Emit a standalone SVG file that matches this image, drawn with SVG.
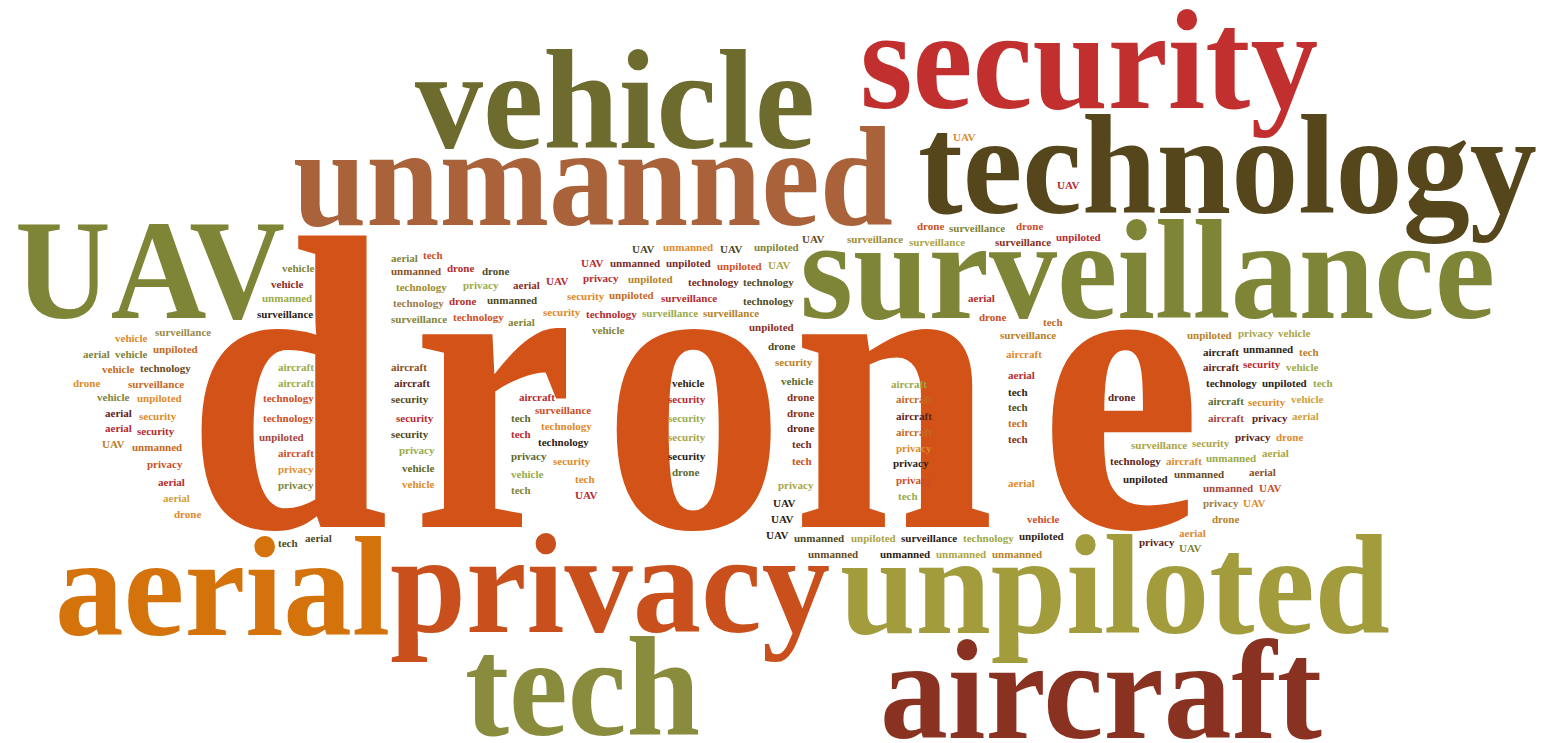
<svg xmlns="http://www.w3.org/2000/svg" width="1543" height="743" viewBox="0 0 1543 743">
<style>
text{font-family:"Liberation Serif","Times New Roman",serif;font-weight:bold}
.b{font-size:142px}
.s{font-size:11px}
.c1{fill:#9aaa48}.c2{fill:#7f8438}.c3{fill:#4d4a22}.c4{fill:#2c2216}.c5{fill:#b52b30}.c6{fill:#8c2d22}
.c7{fill:#dd8a2c}.c8{fill:#cc4f26}.c9{fill:#9a8a4a}.c10{fill:#c4691e}.c11{fill:#5c2419}.c12{fill:#aca445}
.db{fill:#6a4a1e}.br{fill:#8a4f1e}.ob{fill:#b98026}.ta{fill:#cfa13a}.rb{fill:#a8443a}.ot{fill:#a08b30}
.tn{fill:#9c7b4b}.dr{fill:#77292a}.og{fill:#5b6a2a}
</style>
<rect width="1543" height="743" fill="#ffffff"/>
<g id="big">
<text class="b" x="415" y="148" textLength="400" lengthAdjust="spacingAndGlyphs" fill="#6e6b2f">vehicle</text>
<text class="b" x="860" y="108" textLength="458" lengthAdjust="spacingAndGlyphs" fill="#c1302f">security</text>
<text class="b" x="293" y="225" textLength="600" lengthAdjust="spacingAndGlyphs" fill="#a9623a">unmanned</text>
<text class="b" x="918" y="213" textLength="619" lengthAdjust="spacingAndGlyphs" fill="#56461b">technology</text>
<text class="b" x="15" y="318" textLength="270" lengthAdjust="spacingAndGlyphs" fill="#7f8537">UAV</text>
<text class="b" x="800" y="318" textLength="695" lengthAdjust="spacingAndGlyphs" fill="#7f8537">surveillance</text>
<text transform="translate(0,527) scale(0.865,1)" x="216 477 697 916 1202" y="0" font-size="420" fill="#d35217">drone</text>
<text class="b" x="55" y="635" textLength="335" lengthAdjust="spacingAndGlyphs" fill="#d4730c">aerial</text>
<text class="b" x="390" y="632" textLength="440" lengthAdjust="spacingAndGlyphs" fill="#c9501c">privacy</text>
<text class="b" x="840" y="633" textLength="550" lengthAdjust="spacingAndGlyphs" fill="#a39c3c">unpiloted</text>
<text class="b" x="465" y="735" textLength="235" lengthAdjust="spacingAndGlyphs" fill="#8a8c3d">tech</text>
<text class="b" x="880" y="738" textLength="442" lengthAdjust="spacingAndGlyphs" fill="#8a3222">aircraft</text>
</g>
<g id="small" class="s">
<text x="282" y="272" class="c2">vehicle</text>
<text x="271" y="288" class="c6">vehicle</text>
<text x="262" y="302" class="c1">unmanned</text>
<text x="257" y="318" class="c4">surveillance</text>
<text x="155" y="336" class="c9">surveillance</text>
<text x="115" y="342" class="c7">vehicle</text>
<text x="153" y="353" class="c10">unpiloted</text>
<text x="83" y="358" class="c2">aerial</text>
<text x="115" y="358" class="c2">vehicle</text>
<text x="102" y="373" class="c10">vehicle</text>
<text x="140" y="372" class="db">technology</text>
<text x="73" y="387" class="c7">drone</text>
<text x="128" y="388" class="c10">surveillance</text>
<text x="97" y="401" class="c2">vehicle</text>
<text x="137" y="402" class="c7">unpiloted</text>
<text x="278" y="371" class="c1">aircraft</text>
<text x="278" y="387" class="c1">aircraft</text>
<text x="263" y="402" class="c8">technology</text>
<text x="105" y="417" class="c11">aerial</text>
<text x="139" y="420" class="c7">security</text>
<text x="105" y="432" class="c5">aerial</text>
<text x="137" y="435" class="c5">security</text>
<text x="102" y="448" class="ob">UAV</text>
<text x="132" y="451" class="c10">unmanned</text>
<text x="147" y="468" class="c8">privacy</text>
<text x="158" y="486" class="c5">aerial</text>
<text x="163" y="502" class="ta">aerial</text>
<text x="174" y="518" class="c7">drone</text>
<text x="263" y="422" class="c8">technology</text>
<text x="259" y="441" class="rb">unpiloted</text>
<text x="278" y="457" class="c8">aircraft</text>
<text x="278" y="473" class="c7">privacy</text>
<text x="278" y="489" class="c2">privacy</text>
<text x="278" y="547" class="c3">tech</text>
<text x="305" y="542" class="c3">aerial</text>
<text x="391" y="262" class="c2">aerial</text>
<text x="423" y="259" class="c8">tech</text>
<text x="391" y="275" class="br">unmanned</text>
<text x="447" y="272" class="c5">drone</text>
<text x="482" y="275" class="c3">drone</text>
<text x="396" y="291" class="ot">technology</text>
<text x="463" y="289" class="c1">privacy</text>
<text x="513" y="289" class="c6">aerial</text>
<text x="546" y="285" class="c5">UAV</text>
<text x="393" y="307" class="tn">technology</text>
<text x="449" y="305" class="c5">drone</text>
<text x="487" y="304" class="c3">unmanned</text>
<text x="391" y="323" class="c2">surveillance</text>
<text x="453" y="321" class="c8">technology</text>
<text x="508" y="326" class="c2">aerial</text>
<text x="543" y="316" class="c7">security</text>
<text x="586" y="318" class="c5">technology</text>
<text x="567" y="300" class="c7">security</text>
<text x="609" y="299" class="c10">unpiloted</text>
<text x="592" y="334" class="c2">vehicle</text>
<text x="583" y="282" class="c5">privacy</text>
<text x="581" y="267" class="c5">UAV</text>
<text x="610" y="267" class="dr">unmanned</text>
<text x="632" y="253" class="c3">UAV</text>
<text x="663" y="251" class="c7">unmanned</text>
<text x="720" y="253" class="c3">UAV</text>
<text x="754" y="251" class="c2">unpiloted</text>
<text x="802" y="243" class="db">UAV</text>
<text x="847" y="243" class="ot">surveillance</text>
<text x="666" y="267" class="dr">unpiloted</text>
<text x="717" y="270" class="c8">unpiloted</text>
<text x="768" y="269" class="c12">UAV</text>
<text x="628" y="283" class="ob">unpiloted</text>
<text x="688" y="286" class="dr">technology</text>
<text x="743" y="286" class="c3">technology</text>
<text x="661" y="302" class="c5">surveillance</text>
<text x="743" y="305" class="c3">technology</text>
<text x="642" y="317" class="c1">surveillance</text>
<text x="703" y="317" class="ob">surveillance</text>
<text x="749" y="331" class="c6">unpiloted</text>
<text x="391" y="371" class="br">aircraft</text>
<text x="394" y="387" class="c11">aircraft</text>
<text x="391" y="403" class="c3">security</text>
<text x="396" y="422" class="c5">security</text>
<text x="391" y="438" class="c3">security</text>
<text x="399" y="454" class="c1">privacy</text>
<text x="402" y="472" class="og">vehicle</text>
<text x="402" y="488" class="c7">vehicle</text>
<text x="519" y="401" class="c5">aircraft</text>
<text x="535" y="414" class="c8">surveillance</text>
<text x="511" y="422" class="og">tech</text>
<text x="511" y="438" class="c5">tech</text>
<text x="541" y="430" class="c7">technology</text>
<text x="538" y="446" class="c4">technology</text>
<text x="511" y="460" class="og">privacy</text>
<text x="553" y="465" class="c7">security</text>
<text x="511" y="478" class="c1">vehicle</text>
<text x="575" y="483" class="c7">tech</text>
<text x="511" y="494" class="c2">tech</text>
<text x="575" y="499" class="c5">UAV</text>
<text x="672" y="387" class="c4">vehicle</text>
<text x="668" y="403" class="c5">security</text>
<text x="668" y="422" class="c1">security</text>
<text x="668" y="441" class="c12">security</text>
<text x="668" y="460" class="c4">security</text>
<text x="672" y="476" class="og">drone</text>
<text x="768" y="350" class="c3">drone</text>
<text x="775" y="366" class="ob">security</text>
<text x="781" y="385" class="og">vehicle</text>
<text x="787" y="401" class="c6">drone</text>
<text x="787" y="417" class="c6">drone</text>
<text x="787" y="432" class="c11">drone</text>
<text x="792" y="448" class="dr">tech</text>
<text x="792" y="465" class="c8">tech</text>
<text x="778" y="489" class="c12">privacy</text>
<text x="773" y="507" class="c4">UAV</text>
<text x="771" y="523" class="c4">UAV</text>
<text x="766" y="539" class="c4">UAV</text>
<text x="794" y="542" class="c3">unmanned</text>
<text x="851" y="542" class="c12">unpiloted</text>
<text x="901" y="542" class="c4">surveillance</text>
<text x="963" y="542" class="c1">technology</text>
<text x="1019" y="540" class="c4">unpiloted</text>
<text x="808" y="558" class="db">unmanned</text>
<text x="880" y="558" class="c4">unmanned</text>
<text x="936" y="558" class="c12">unmanned</text>
<text x="992" y="558" class="ob">unmanned</text>
<text x="898" y="500" class="c1">tech</text>
<text x="1008" y="487" class="c7">aerial</text>
<text x="1027" y="523" class="c8">vehicle</text>
<text x="953" y="141" class="c7">UAV</text>
<text x="1057" y="189" class="c5">UAV</text>
<text x="917" y="230" class="c8">drone</text>
<text x="949" y="232" class="c2">surveillance</text>
<text x="1016" y="230" class="c8">drone</text>
<text x="909" y="246" class="c12">surveillance</text>
<text x="995" y="246" class="c6">surveillance</text>
<text x="1056" y="241" class="c5">unpiloted</text>
<text x="968" y="302" class="c5">aerial</text>
<text x="979" y="321" class="c8">drone</text>
<text x="1043" y="326" class="c10">tech</text>
<text x="1000" y="339" class="ob">surveillance</text>
<text x="1006" y="358" class="c7">aircraft</text>
<text x="1008" y="379" class="c5">aerial</text>
<text x="1008" y="396" class="c4">tech</text>
<text x="1008" y="411" class="c3">tech</text>
<text x="1008" y="427" class="c10">tech</text>
<text x="1008" y="443" class="c6">tech</text>
<text x="891" y="388" class="c1">aircraft</text>
<text x="896" y="403" class="c10">aircraft</text>
<text x="896" y="420" class="c11">aircraft</text>
<text x="896" y="436" class="c10">aircraft</text>
<text x="896" y="452" class="c7">privacy</text>
<text x="893" y="467" class="c4">privacy</text>
<text x="896" y="484" class="c8">privacy</text>
<text x="1108" y="401" class="c11">drone</text>
<text x="1187" y="339" class="ob">unpiloted</text>
<text x="1238" y="337" class="c12">privacy</text>
<text x="1278" y="337" class="c12">vehicle</text>
<text x="1203" y="356" class="c4">aircraft</text>
<text x="1243" y="353" class="c4">unmanned</text>
<text x="1299" y="356" class="ob">tech</text>
<text x="1203" y="371" class="c11">aircraft</text>
<text x="1243" y="368" class="c5">security</text>
<text x="1286" y="371" class="c1">vehicle</text>
<text x="1206" y="387" class="c4">technology</text>
<text x="1262" y="387" class="c4">unpiloted</text>
<text x="1313" y="387" class="c1">tech</text>
<text x="1208" y="405" class="og">aircraft</text>
<text x="1248" y="406" class="c7">security</text>
<text x="1291" y="403" class="ta">vehicle</text>
<text x="1208" y="422" class="rb">aircraft</text>
<text x="1252" y="422" class="c11">privacy</text>
<text x="1292" y="420" class="ta">aerial</text>
<text x="1235" y="441" class="c11">privacy</text>
<text x="1276" y="441" class="c7">drone</text>
<text x="1131" y="449" class="c12">surveillance</text>
<text x="1192" y="447" class="c12">security</text>
<text x="1110" y="465" class="c11">technology</text>
<text x="1166" y="465" class="c7">aircraft</text>
<text x="1206" y="462" class="c1">unmanned</text>
<text x="1262" y="457" class="c12">aerial</text>
<text x="1123" y="483" class="c4">unpiloted</text>
<text x="1174" y="478" class="db">unmanned</text>
<text x="1249" y="476" class="br">aerial</text>
<text x="1203" y="492" class="rb">unmanned</text>
<text x="1259" y="492" class="c8">UAV</text>
<text x="1203" y="507" class="tn">privacy</text>
<text x="1243" y="507" class="c7">UAV</text>
<text x="1212" y="523" class="ob">drone</text>
<text x="1179" y="537" class="c7">aerial</text>
<text x="1139" y="546" class="c11">privacy</text>
<text x="1179" y="552" class="c2">UAV</text>
</g>
</svg>
